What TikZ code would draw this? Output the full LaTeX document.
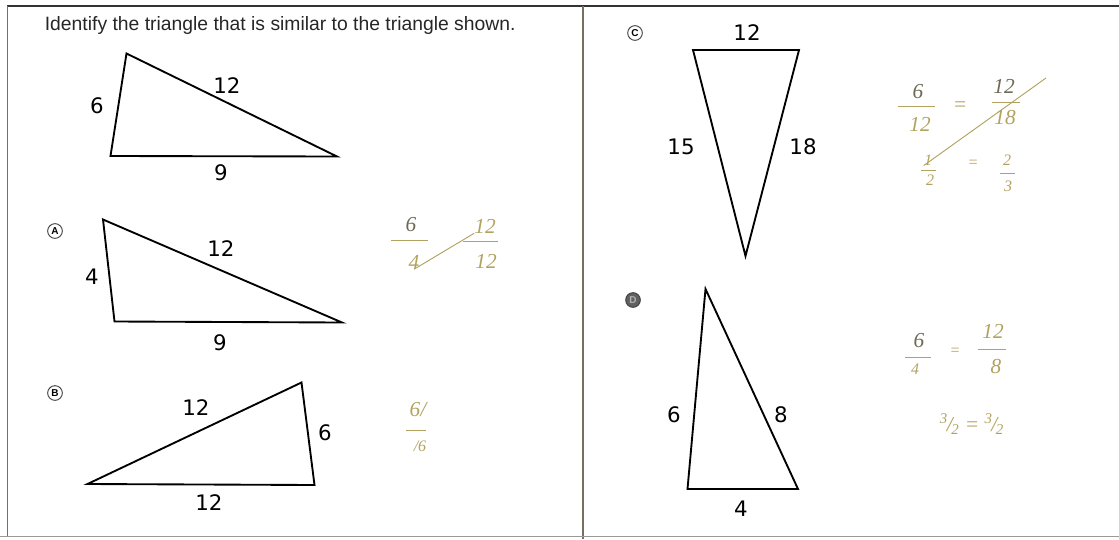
\documentclass[tikz,border=0pt]{standalone}
\usepackage{fontspec}
\setmainfont{Liberation Sans}
\newfontfamily\labelfont{DejaVu Sans}
\newfontfamily\handfont{Liberation Serif}
\usetikzlibrary{positioning}

\definecolor{pencil}{RGB}{178,162,95}
\definecolor{pencildk}{RGB}{110,105,85}
\definecolor{rule}{RGB}{120,112,95}

\begin{document}
\begin{tikzpicture}[
	x=0.75pt, y=-0.75pt,
	tri/.style={draw=black, line width=1.4pt, line join=miter},
	side/.style={font=\labelfont\fontsize{16}{18}\selectfont, inner sep=0pt},
	choice/.style={
		circle, draw=black!75, line width=0.7pt,
		minimum size=11pt, inner sep=0pt,
		font=\fontsize{7.5}{7.5}\selectfont\bfseries
	},
	hand/.style={font=\handfont\itshape\fontsize{16}{17}\selectfont, text=pencil, inner sep=0pt},
	handsm/.style={hand, font=\handfont\itshape\fontsize{12}{13}\selectfont},
	hline/.style={draw=pencil, line width=0.7pt},
	frame/.style={draw=rule, line width=1.1pt}
	]
	\useasboundingbox (0,0) rectangle (1119,539);
	
	%% ── Worksheet frame ─────────────────────────────────────────────────
	\draw[frame, draw=black!80, line width=1.5pt] (7,5.5) -- (1119,5.5);
	\draw[frame] (7.5,5.5) -- (7.5,537);
	\draw[frame] (583,5.5) -- (583,539);
	\draw[draw=black!40, line width=1pt] (0,536.5) -- (1119,536.5);
	
	\node[anchor=base west, inner sep=0pt, text=black!85,
	font=\fontsize{14.5}{16}\selectfont] (title) at (44.6,30.7)
	{Identify the triangle that is similar to the triangle shown.};
	
	%% ── Given triangle ──────────────────────────────────────────────────
	\coordinate (g1) at (126.5,53.5);
	\coordinate (g2) at (110.5,156);
	\coordinate (g3) at (337,156.5);
	\draw[tri] (g1) -- (g2) -- (g3) -- cycle;
	\node[side] (g6)  at (97,106)  {6};
	\node[side] (g12) at (227,86)  {12};
	\node[side] (g9)  at (221,173) {9};
	
	%% ── Choice A ────────────────────────────────────────────────────────
	\node[choice] (optA) at (55,231) {A};
	\coordinate (a1) at (103,219.5);
	\coordinate (a2) at (114.5,321.5);
	\coordinate (a3) at (342,322.5);
	\draw[tri] (a1) -- (a2) -- (a3) -- cycle;
	\node[side] (a4)  at (92,277)  {4};
	\node[side] (a12) at (221,249) {12};
	\node[side] (a9)  at (220,343) {9};
	
	%% ── Choice B ────────────────────────────────────────────────────────
	\node[choice] (optB) at (55,393) {B};
	\coordinate (b1) at (87.5,484);
	\coordinate (b2) at (301.5,382.5);
	\coordinate (b3) at (314.5,485);
	\draw[tri] (b1) -- (b2) -- (b3) -- cycle;
	\node[side] (b12) at (196,408) {12};
	\node[side] (b6)  at (325,433) {6};
	\node[side] (b12b) at (209,503) {12};
	
	%% ── Choice C ────────────────────────────────────────────────────────
	\node[choice] (optC) at (635,33) {C};
	\coordinate (c1) at (693,50);
	\coordinate (c2) at (799,50);
	\coordinate (c3) at (745.5,256);
	\draw[tri] (c1) -- (c2) -- (c3) -- cycle;
	\node[side] (c12) at (747,33)  {12};
	\node[side] (c15) at (681,147) {15};
	\node[side] (c18) at (803,147) {18};
	
	%% ── Choice D (marked) ───────────────────────────────────────────────
	\node[choice, fill=black!62, text=black!30] (optD) at (633,300) {D};
	\coordinate (d1) at (705.5,289);
	\coordinate (d2) at (687.5,489);
	\coordinate (d3) at (798,489);
	\draw[tri] (d1) -- (d2) -- (d3) -- cycle;
	\node[side] (d6) at (674,415) {6};
	\node[side] (d8) at (781,415) {8};
	\node[side] (d4) at (741,509) {4};
	
	%% ── Pencil working ──────────────────────────────────────────────────
	%% A
	\node[hand, text=pencildk] (ha6) at (411,225) {6};
	\node[hand] (ha4)   at (414,262) {4};
	\node[hand] (ha12)  at (485,226) {12};
	\node[hand] (ha12b) at (486,261) {12};
	\draw[hline] (ha4.south) -- (ha12.south west);
	%% B
	\node[hand] (hb6)  at (418,410) {6/};
	\node[handsm] (hb6b) at (420,446) {/6};
	%% C
	\node[hand, text=pencildk] (hc6) at (918,92) {6};
	\node[hand] (hc12)  at (920,124) {12};
	\node[hand] (hceq)  at (960,107) {=};
	\node[hand, text=pencildk] (hc12t) at (1004,86) {12};
	\node[hand] (hc18)  at (1005,118) {18};
	\node[handsm] (hc1)  at (928,160) {1};
	\node[handsm] (hc2)  at (930,180) {2};
	\node[handsm] (hceq2) at (973,164) {=};
	\node[handsm] (hc2b) at (1007,160) {2};
	\node[handsm] (hc3)  at (1008,186) {3};
	\coordinate (hcend) at (1046,78);
	\draw[hline] (hc1.south west) -- (hcend);
	%% D
	\node[hand, text=pencildk] (hd6) at (919,341) {6};
	\node[handsm] (hd4)  at (915,369) {4};
	\node[handsm] (hdeq) at (955,352) {=};
	\node[hand] (hd12) at (993,331) {12};
	\node[hand] (hd8)  at (996,367) {8};
	\node[hand] (hdrow) at (972,424)
	{\textsuperscript{3}\kern-1pt/\kern-1pt\textsubscript{2} = \textsuperscript{3}\kern-1pt/\kern-1pt\textsubscript{2}};
	
	%% fraction bars
	\foreach \xa/\xb/\yy in {391/428/240, 463/498/241, 898/935/106, 992/1020/102,
		921/936/170, 1000/1015/173, 905/931/357, 978/1006/349, 406/426/430}
	\draw[hline] (\xa,\yy) -- (\xb,\yy);
	
\end{tikzpicture}
\end{document}
